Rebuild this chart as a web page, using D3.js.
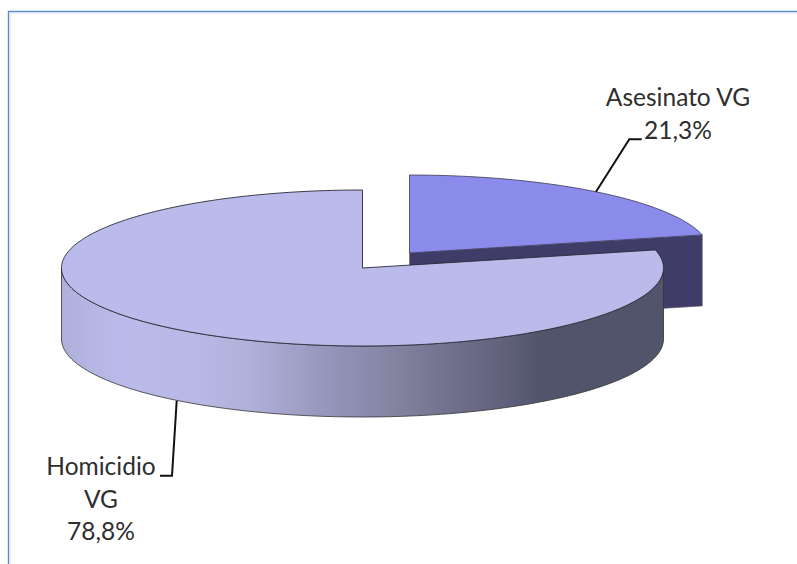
<!DOCTYPE html>
<html><head><meta charset="utf-8">
<script src="https://cdn.jsdelivr.net/npm/d3@7"></script>
<style>html,body{margin:0;padding:0;background:#fff;overflow:hidden}text{font-family:Lato,"Open Sans",sans-serif;font-size:24.5px;fill:#2e2e2e;text-anchor:middle}</style>
</head><body><div id="c"></div>
<script>
const categories=["Asesinato VG","Homicidio VG"];
const percents=[21.3,78.8];
const labelLines=[["Asesinato VG","21,3%"],["Homicidio","VG","78,8%"]];
const sideStops=[[0,"#afafdb"],[0.1,"#bbbbeb"],[0.23,"#b8b8e5"],[0.31,"#b0b0da"],[0.45,"#9494ba"],[0.56,"#82829f"],[0.66,"#6e6e8c"],[0.73,"#62627c"],[0.795,"#52546c"],[1,"#52546c"]];
const W=797,H=564;
const svg=d3.select("#c").append("svg").attr("width",W).attr("height",H);
const defs=svg.append("defs");
const g=defs.append("linearGradient").attr("id","side").attr("x1",0).attr("x2",1).attr("y1",0).attr("y2",0);
sideStops.forEach(s=>g.append("stop").attr("offset",s[0]).attr("stop-color",s[1]));
// frame
svg.append("path").attr("d",`M8.5,564V11.5H797`).attr("fill","none").attr("stroke","#5b8bc9").attr("stroke-width",1.4);
svg.append("path").attr("d",`M10,564V13H797`).attr("fill","none").attr("stroke","#d5e2f3").attr("stroke-width",1);
const rx=301,ry=78,depth=71;
const pieGen=d3.pie().sort(null).value(d=>d);
const arcs=pieGen(percents);
const centers=[[409.5,253],[362.5,268]];
const fills=["#8b8beb","#bbbbeb"];
const pt=(c,a,dy=0)=>[c[0]+rx*Math.sin(a),c[1]-ry*Math.cos(a)+dy];
const line=d3.line();
// Asesinato: front cut face then top
{
 const c=centers[0],a=arcs[0];
 const tip=pt(c,a.endAngle);
 svg.append("path").attr("d",line([c,tip,[tip[0],tip[1]+depth],[c[0],c[1]+depth]])+"Z").attr("fill","#3f3d68").attr("stroke","#666").attr("stroke-width",.6);
 const n=60,ps=d3.range(n+1).map(i=>pt(c,a.startAngle+(a.endAngle-a.startAngle)*i/n));
 svg.append("path").attr("d",line([c,...ps])+"Z").attr("fill",fills[0]).attr("stroke","#3a3a55").attr("stroke-width",.8);
}
// Homicidio: outer wall then top
{
 const c=centers[1],a=arcs[1];
 const n=120,front=d3.range(n+1).map(i=>Math.PI/2+Math.PI*i/n);
 const top=front.map(t=>pt(c,t)),bot=front.map(t=>pt(c,t,depth)).reverse();
 svg.append("path").attr("d",line([...top,...bot])+"Z").attr("fill","url(#side)").attr("stroke","#333").attr("stroke-width",.8);
 const m=240,ps=d3.range(m+1).map(i=>pt(c,a.startAngle+(a.endAngle-a.startAngle)*i/m));
 svg.append("path").attr("d",line([c,...ps])+"Z").attr("fill",fills[1]).attr("stroke","#2a2a3a").attr("stroke-width",.9);
}
// leaders
const lead=[[[641.7,139.3],[629.3,139.3],[596,191.7]],[[176.7,400.7],[172,475.7],[160,475.7]]];
lead.forEach(l=>svg.append("path").attr("d",line(l)).attr("fill","none").attr("stroke","#111").attr("stroke-width",2));
// labels
const labelPos=[[678,106],[101,475]];
labelLines.forEach((ls,i)=>{const t=svg.append("text").attr("x",labelPos[i][0]).attr("y",labelPos[i][1]);
 ls.forEach((s,j)=>t.append("tspan").attr("x",labelPos[i][0]).attr("dy",j?32.7:0).text(s));});
</script></body></html>
